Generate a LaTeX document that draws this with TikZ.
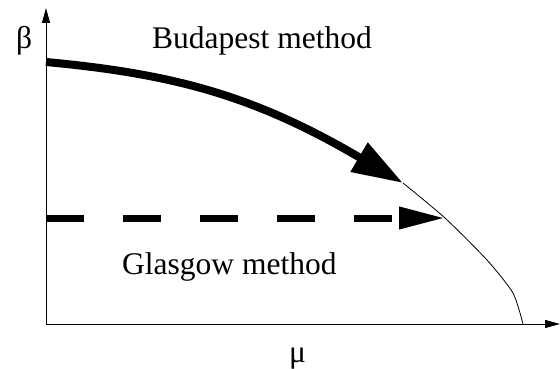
\documentclass[tikz,border=0pt]{standalone}
\usepackage{fontspec}
\setmainfont{Liberation Serif}
\usetikzlibrary{arrows.meta}
\begin{document}
\begin{tikzpicture}[x=1pt,y=-1pt,
  axis/.style={line width=1pt,-{Triangle[length=15pt,width=8pt]}},
  lbl/.style={inner sep=0pt,anchor=base west,font=\fontsize{31.5}{38}\selectfont},
  budapest/.style={line width=8pt,-{Triangle[length=51pt,width=32pt]}},
  glasgow/.style={line width=7pt,dash pattern=on 38pt off 39pt,-{Triangle[length=46pt,width=21pt]}},
  boundary/.style={line width=0.8pt}]
\useasboundingbox (0,0) rectangle (560,369);
\coordinate (O) at (46,324);
\coordinate (ytop) at (46,8);
\coordinate (xend) at (560,324);
\coordinate (bstart) at (46,62);
\coordinate (btip) at (403,183);
\coordinate (gstart) at (46,218);
\coordinate (gtip) at (445,218);
\draw[axis] (O) -- (ytop);
\draw[axis] (O) -- (xend);
\draw[boundary] plot[smooth,tension=0.4] coordinates {(403,183) (445,218) (487,260) (513,293) (523,324)};
\draw[budapest] (bstart) .. controls (175,74) and (255,96) .. (btip);
\draw[glasgow] (gstart) -- (gtip);
\node[lbl] (beta) at (16,49) {β};
\node[lbl] (bud) at (152,49) {Budapest method};
\node[lbl] (gla) at (122,274) {Glasgow method};
\node[lbl] (mu) at (289,362) {μ};
\end{tikzpicture}
\end{document}
